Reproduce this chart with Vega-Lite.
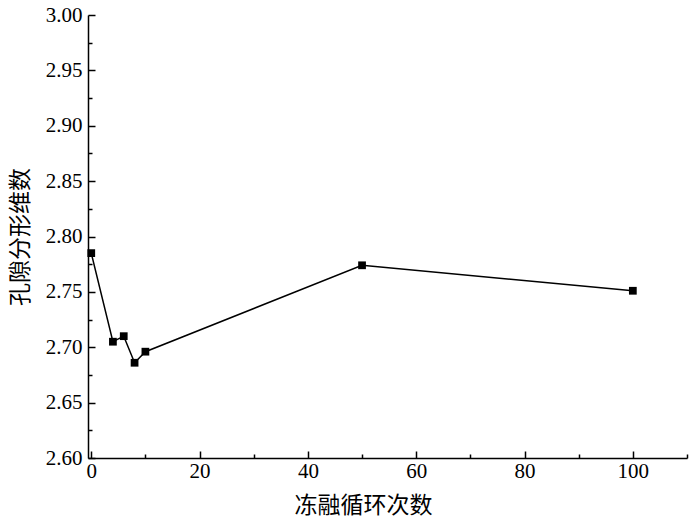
{
  "$schema": "https://vega.github.io/schema/vega-lite/v6.json",
  "autosize": "none",
  "width": 599,
  "height": 443,
  "padding": {"left": 88, "top": 15, "right": 13, "bottom": 66},
  "background": "white",
  "config": {
    "view": {"stroke": null},
    "axis": {"grid": false, "domainColor": "black", "tickColor": "black", "labelColor": "black", "titleColor": "black", "labelFont": "Times New Roman, Liberation Serif, serif", "labelFontSize": 21, "domainWidth": 1.5, "tickWidth": 1.5}
  },
  "data": {"values": [
    {"cycles": 0, "fd": 2.785},
    {"cycles": 4, "fd": 2.705},
    {"cycles": 6, "fd": 2.710},
    {"cycles": 8, "fd": 2.686},
    {"cycles": 10, "fd": 2.696},
    {"cycles": 50, "fd": 2.774},
    {"cycles": 100, "fd": 2.751}
  ]},
  "resolve": {"axis": {"x": "independent", "y": "independent"}},
  "layer": [
    {
      "mark": {"type": "line", "color": "black", "strokeWidth": 1.5},
      "encoding": {
        "x": {"field": "cycles", "type": "quantitative", "scale": {"domain": [-0.6, 110], "nice": false, "zero": false},
          "axis": {"orient": "bottom", "values": [0, 20, 40, 60, 80, 100], "tickSize": -7, "labelPadding": 9, "labelFont": "Times New Roman, Liberation Serif, serif", "labelFontSize": 21, "title": "冻融循环次数", "titleFont": "Noto Sans CJK SC", "titleFontSize": 23, "titleFontWeight": "normal", "titlePadding": 13, "titleX": 275}},
        "y": {"field": "fd", "type": "quantitative", "scale": {"domain": [2.6, 3.0], "nice": false, "zero": false},
          "axis": {"orient": "left", "values": [2.6, 2.65, 2.7, 2.75, 2.8, 2.85, 2.9, 2.95, 3.0], "format": ".2f", "tickSize": -7, "labelPadding": 13, "labelFont": "Times New Roman, Liberation Serif, serif", "labelFontSize": 21, "title": "孔隙分形维数", "titleFont": "Noto Sans CJK SC", "titleFontSize": 23, "titleFontWeight": "normal", "titlePadding": 13}}
      }
    },
    {
      "mark": {"type": "square", "color": "black", "opacity": 1, "size": 60, "filled": true},
      "encoding": {
        "x": {"field": "cycles", "type": "quantitative",
          "axis": {"orient": "bottom", "values": [10, 30, 50, 70, 90, 110], "tickSize": -4, "labels": false, "domain": false, "title": null}},
        "y": {"field": "fd", "type": "quantitative",
          "axis": {"orient": "left", "values": [2.625, 2.675, 2.725, 2.775, 2.825, 2.875, 2.925, 2.975], "tickSize": -4, "labels": false, "domain": false, "title": null}}
      }
    }
  ]
}
